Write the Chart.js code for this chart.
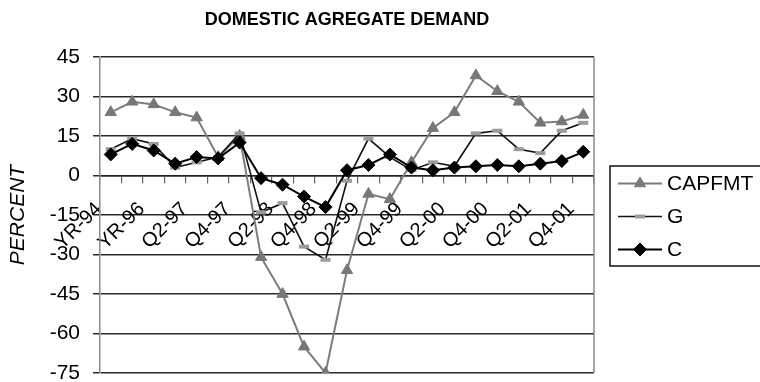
<!DOCTYPE html>
<html>
<head>
<meta charset="utf-8">
<script src="https://cdn.jsdelivr.net/npm/chart.js@4/dist/chart.umd.min.js"></script>
<style>
  html, body { margin: 0; padding: 0; background: #ffffff; }
  canvas { display: block; }
</style>
</head>
<body>
<canvas id="demand" width="760" height="382"></canvas>
<script>
// Periods: annual for 1994-96, then quarterly
const periods = ['YR-94', 'YR-95', 'YR-96',
  'Q1-97', 'Q2-97', 'Q3-97', 'Q4-97',
  'Q1-98', 'Q2-98', 'Q3-98', 'Q4-98',
  'Q1-99', 'Q2-99', 'Q3-99', 'Q4-99',
  'Q1-00', 'Q2-00', 'Q3-00', 'Q4-00',
  'Q1-01', 'Q2-01', 'Q3-01', 'Q4-01'];

// Growth rates, percent
const capfmt = [24, 28, 27, 24, 22, 7, 15, -31, -45, -65, -75, -36, -7, -9, 5, 18, 24, 38, 32, 28, 20, 20.5, 23];
const govt   = [10, 14, 12, 3, 5, 7, 16, -14, -10.5, -27, -32, -2, 14, 7, 2, 5, 3.5, 16, 17, 10, 8.5, 17, 20];
const cons   = [8, 12, 9.5, 4.5, 7, 6.5, 12.5, -1, -3.5, -8, -12, 2, 4, 8, 3, 2, 3, 3.5, 4, 3.5, 4.5, 5.5, 9];

// Value axis range
const yMin = -75, yMax = 45, yStep = 15;

const FONT = '"Liberation Sans", Arial, sans-serif';

// Plot frame on the right edge plus the boxed key beside the plot
const frameAndKey = {
  id: 'frameAndKey',
  beforeDatasetsDraw(chart) {
    const { ctx, chartArea: a } = chart;
    ctx.save();
    ctx.strokeStyle = '#8a8a8a';
    ctx.lineWidth = 1.5;
    ctx.beginPath();
    ctx.moveTo(a.right, a.top);
    ctx.lineTo(a.right, a.bottom);
    ctx.stroke();
    ctx.restore();
  },
  afterDraw(chart) {
    const { ctx, chartArea: a } = chart;
    const sets = chart.data.datasets;
    const rowH = 33;
    const boxL = a.right + 16;
    const boxH = rowH * sets.length + 1;
    const boxT = (a.top + a.bottom) / 2 - boxH / 2 + 1;
    ctx.save();
    ctx.strokeStyle = '#111';
    ctx.lineWidth = 1.5;
    ctx.strokeRect(boxL, boxT, chart.width - boxL + 5, boxH);
    sets.forEach((ds, i) => {
      const cy = boxT + rowH / 2 + 1 + i * rowH;
      const x0 = boxL + 8, x1 = boxL + 52;
      ctx.strokeStyle = ds.borderColor;
      ctx.lineWidth = ds.borderWidth;
      ctx.beginPath();
      ctx.moveTo(x0, cy);
      ctx.lineTo(x1, cy);
      ctx.stroke();
      ctx.fillStyle = ds.pointBackgroundColor;
      ctx.strokeStyle = ds.pointBorderColor;
      ctx.lineWidth = ds.pointBorderWidth;
      Chart.helpers.drawPoint(ctx, {
        pointStyle: ds.pointStyle, radius: ds.pointRadius,
        rotation: 0, borderWidth: ds.pointBorderWidth
      }, (x0 + x1) / 2, cy);
      ctx.fillStyle = '#000';
      ctx.font = '21px ' + FONT;
      ctx.textBaseline = 'middle';
      ctx.textAlign = 'left';
      ctx.fillText(ds.label, x1 + 5, cy + 1);
    });
    ctx.restore();
  }
};

new Chart(document.getElementById('demand'), {
  type: 'line',
  data: {
    labels: periods,
    datasets: [
      {
        label: 'CAPFMT', data: capfmt, order: 3,
        borderColor: '#7d7d7d', borderWidth: 2,
        pointStyle: 'triangle', pointRadius: 6.5,
        pointBackgroundColor: '#777777', pointBorderColor: '#777777', pointBorderWidth: 1
      },
      {
        label: 'G', data: govt, order: 2,
        borderColor: '#111111', borderWidth: 1.6,
        pointStyle: 'line', pointRadius: 5,
        pointBackgroundColor: '#9a9a9a', pointBorderColor: '#9a9a9a', pointBorderWidth: 4
      },
      {
        label: 'C', data: cons, order: 1,
        borderColor: '#000000', borderWidth: 2,
        pointStyle: 'rectRot', pointRadius: 6.5,
        pointBackgroundColor: '#000000', pointBorderColor: '#000000', pointBorderWidth: 1
      }
    ]
  },
  options: {
    responsive: false,
    animation: false,
    events: [],
    layout: { padding: { left: 0, right: 166, top: 0, bottom: 0 } },
    plugins: {
      legend: { display: false },
      tooltip: { enabled: false },
      title: {
        display: true,
        fullSize: false,
        text: 'DOMESTIC AGREGATE DEMAND',
        color: '#000',
        font: { family: FONT, size: 18, weight: 'bold' },
        padding: { top: 9, bottom: 26.4 }
      }
    },
    scales: {
      x: {
        type: 'category',
        position: { y: 0 },
        offset: true,
        afterFit(scale) { scale.height = 11; scale.paddingTop = 0; scale.paddingBottom = 0; },
        border: { display: true, color: '#222', width: 1.5 },
        grid: { drawOnChartArea: false, drawTicks: true, tickLength: 7, offset: true, color: '#666', tickColor: '#666', lineWidth: 1.2 },
        ticks: {
          autoSkip: false,
          maxRotation: 45, minRotation: 45,
          padding: 15,
          labelOffset: -12,
          color: '#000',
          font: { family: FONT, size: 20 },
          callback: (v, i) => (i % 2 === 0 ? periods[i] : '')
        }
      },
      y: {
        min: yMin, max: yMax,
        afterFit(scale) { scale.width = 100; scale.paddingTop = 0; scale.paddingBottom = 0; },
        border: { display: true, color: '#8a8a8a', width: 1.5 },
        grid: { color: '#2a2a2a', lineWidth: 1.5, tickLength: 7, tickColor: '#2a2a2a' },
        ticks: {
          stepSize: yStep,
          padding: 13,
          color: '#000',
          font: { family: FONT, size: 21 }
        },
        title: {
          display: true,
          text: 'PERCENT',
          color: '#000',
          font: { family: FONT, size: 21, style: 'italic' },
          padding: { top: 6, bottom: 0 }
        }
      }
    }
  },
  plugins: [frameAndKey]
});
</script>
</body>
</html>
